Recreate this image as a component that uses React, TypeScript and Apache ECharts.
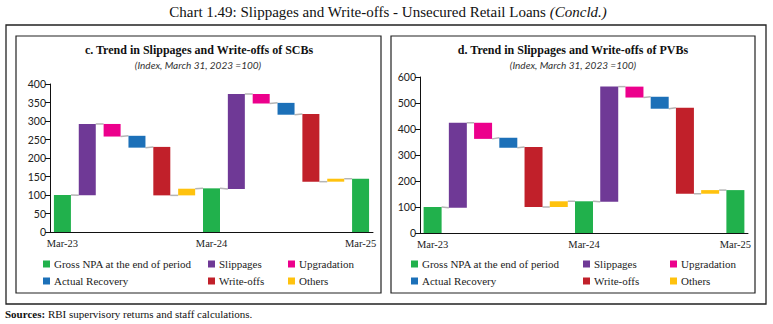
import React, { useEffect, useRef } from "react";
import * as echarts from "echarts";

// ---- data ----
const categories = [
  "Mar-23", "Slippages FY24", "Upgradation FY24", "Actual Recovery FY24", "Write-offs FY24", "Others FY24",
  "Mar-24", "Slippages FY25", "Upgradation FY25", "Actual Recovery FY25", "Write-offs FY25", "Others FY25",
  "Mar-25",
];
const xTickLabels = ["Mar-23", "Mar-24", "Mar-25"];

const legendNames = [
  "Gross NPA at the end of period",
  "Slippages",
  "Upgradation",
  "Actual Recovery",
  "Write-offs",
  "Others",
];
const legendColors = ["#21b14c", "#6f3996", "#ec008c", "#1c70b8", "#c1202a", "#ffc20e"];
// 0 = stock (total), +1 = moves the running total up, -1 = moves it down
const stepDirection = [0, 1, -1, -1, -1, 1];

// kind of each category (index into legendNames)
const stepKinds = [0, 1, 2, 3, 4, 5, 0, 1, 2, 3, 4, 5, 0];

// c. SCBs  (Index, March 31, 2023 = 100)
const scbLow = [0, 99, 258, 228, 99, 99, 0, 116, 347, 317, 136, 136, 0];
const scbHigh = [100, 292, 292, 260, 230, 117, 118, 373, 373, 349, 319, 144, 144];

// d. PVBs  (Index, March 31, 2023 = 100)
const pvbLow = [0, 97, 362, 328, 100, 100, 0, 120, 521, 478, 151, 151, 0];
const pvbHigh = [100, 424, 424, 366, 331, 122, 122, 563, 563, 524, 482, 165, 165];

const scbTicks = { max: 400, interval: 50 };
const pvbTicks = { max: 600, interval: 100 };

const SERIF = "'Liberation Serif', 'DejaVu Serif', serif";
const SANS = "Lato, 'Liberation Sans', sans-serif";

export default function App() {
  const ref = useRef<HTMLDivElement>(null);

  useEffect(() => {
    document.body.style.margin = "0";
    const chart = echarts.init(ref.current!, null, { renderer: "svg" });

    const panels = [
      { low: scbLow, high: scbHigh, ticks: scbTicks, grid: { left: 50, top: 84, width: 323, height: 148 }, barW: 17 },
      { low: pvbLow, high: pvbHigh, ticks: pvbTicks, grid: { left: 420, top: 77, width: 328, height: 156 }, barW: 18 },
    ];

    const grids: any[] = [];
    const xAxes: any[] = [];
    const yAxes: any[] = [];
    const series: any[] = [];

    panels.forEach((p, k) => {
      grids.push({ ...p.grid, containLabel: false });
      xAxes.push({
        type: "category",
        gridIndex: k,
        data: categories,
        boundaryGap: true,
        axisLine: { lineStyle: { color: "#111", width: 1 } },
        axisTick: { show: false },
        axisLabel: {
          interval: 0,
          margin: 6,
          fontFamily: SERIF,
          fontSize: 10.5,
          color: "#222",
          formatter: (v: string) => (xTickLabels.includes(v) ? v : ""),
        },
        splitLine: { show: false },
      });
      yAxes.push({
        type: "value",
        gridIndex: k,
        min: 0,
        max: p.ticks.max,
        interval: p.ticks.interval,
        axisLine: { show: true, lineStyle: { color: "#111", width: 1 } },
        axisTick: { show: true, length: 5, lineStyle: { color: "#111" } },
        axisLabel: { fontFamily: SANS, fontSize: 10.5, color: "#222", margin: 4 },
        splitLine: { show: false },
      });

      // invisible base of the waterfall
      series.push({
        type: "bar",
        name: "base" + k,
        xAxisIndex: k,
        yAxisIndex: k,
        stack: "wf" + k,
        barWidth: p.barW,
        silent: true,
        itemStyle: { color: "rgba(0,0,0,0)" },
        data: p.low,
      });
      legendNames.forEach((name, j) => {
        series.push({
          type: "bar",
          name,
          xAxisIndex: k,
          yAxisIndex: k,
          stack: "wf" + k,
          barWidth: p.barW,
          itemStyle: { color: legendColors[j] },
          data: categories.map((_, i) => (stepKinds[i] === j ? p.high[i] - p.low[i] : "-")),
        });
      });

      // connector lines between consecutive bars
      const levelAt = (i: number, side: "start" | "end") => {
        const d = stepDirection[stepKinds[i]];
        if (d === 0) return p.high[i];
        if (side === "end") return d > 0 ? p.high[i] : p.low[i];
        return d > 0 ? p.low[i] : p.high[i];
      };
      const connectors = categories.slice(0, -1).map((_, i) => [i, levelAt(i, "end"), levelAt(i + 1, "start")]);
      const bw = p.barW;
      series.push({
        type: "custom",
        name: "connectors" + k,
        xAxisIndex: k,
        yAxisIndex: k,
        silent: true,
        z: 1,
        data: connectors,
        renderItem: (params: any, api: any) => {
          const i = api.value(0);
          const a = api.coord([i, api.value(1)]);
          const b = api.coord([i + 1, api.value(2)]);
          return {
            type: "line",
            shape: { x1: a[0] + bw / 2, y1: a[1], x2: b[0] - bw / 2, y2: b[1] },
            style: { stroke: "#b5b5b5", lineWidth: 1.5 },
          };
        },
      });
    });

    const legendCols = [
      [43, 208, 288],
      [411, 583, 670],
    ];
    const legendRows = [264, 281];
    const legends: any[] = [];
    legendCols.forEach((cols) => {
      legendNames.forEach((name, j) => {
        const row = j < 3 ? 0 : 1;
        const col = j % 3;
        legends.push({
          data: [name],
          left: cols[col],
          top: legendRows[row] - 6,
          padding: 0,
          itemWidth: 7,
          itemHeight: 7,
          icon: "rect",
          selectedMode: false,
          textStyle: { fontFamily: SERIF, fontSize: 11, color: "#222", lineHeight: 12, padding: [0, 0, 0, -1] },
        });
      });
    });

    const graphic: any[] = [
      {
        type: "rect",
        shape: { x: 6, y: 25, width: 760, height: 279 },
        style: { fill: "none", stroke: "#222", lineWidth: 1.3 },
        silent: true,
      },
      {
        type: "rect",
        shape: { x: 16, y: 36, width: 365, height: 257 },
        style: { fill: "none", stroke: "#222", lineWidth: 1.2 },
        silent: true,
      },
      {
        type: "rect",
        shape: { x: 391, y: 36, width: 364, height: 257 },
        style: { fill: "none", stroke: "#222", lineWidth: 1.2 },
        silent: true,
      },
      {
        type: "text",
        x: 388,
        y: 12,
        style: {
          text: "{a|Chart 1.49: Slippages and Write-offs - Unsecured Retail Loans }{b|(Concld.)}",
          align: "center",
          verticalAlign: "middle",
          rich: {
            a: { fontFamily: SERIF, fontSize: 15, fill: "#111" },
            b: { fontFamily: SERIF, fontSize: 15, fontStyle: "italic", fill: "#111" },
          },
        },
      },
      {
        type: "text",
        x: 199,
        y: 50,
        style: {
          text: "c. Trend in Slippages and Write-offs of SCBs",
          fontFamily: SERIF,
          fontSize: 12,
          fontWeight: "bold",
          fill: "#111",
          align: "center",
          verticalAlign: "middle",
        },
      },
      {
        type: "text",
        x: 573,
        y: 50,
        style: {
          text: "d. Trend in Slippages and Write-offs of PVBs",
          fontFamily: SERIF,
          fontSize: 12,
          fontWeight: "bold",
          fill: "#111",
          align: "center",
          verticalAlign: "middle",
        },
      },
      {
        type: "text",
        x: 198,
        y: 65,
        style: {
          text: "(Index, March 31, 2023 =100)",
          fontFamily: SANS,
          fontSize: 10,
          fontStyle: "italic",
          fill: "#333",
          align: "center",
          verticalAlign: "middle",
        },
      },
      {
        type: "text",
        x: 573,
        y: 65,
        style: {
          text: "(Index, March 31, 2023 =100)",
          fontFamily: SANS,
          fontSize: 10,
          fontStyle: "italic",
          fill: "#333",
          align: "center",
          verticalAlign: "middle",
        },
      },
      {
        type: "text",
        x: 5,
        y: 314,
        style: {
          text: "{a|Sources:}{b| RBI supervisory returns and staff calculations.}",
          verticalAlign: "middle",
          rich: {
            a: { fontFamily: SERIF, fontSize: 11, fontWeight: "bold", fill: "#111" },
            b: { fontFamily: SERIF, fontSize: 11, fill: "#111" },
          },
        },
      },
    ];

    chart.setOption({
      animation: false,
      backgroundColor: "#fff",
      grid: grids,
      xAxis: xAxes,
      yAxis: yAxes,
      legend: legends,
      series,
      graphic,
    });

    return () => chart.dispose();
  }, []);

  return (
    <div
      ref={ref}
      style={{ position: "absolute", left: 0, top: 0, width: 773, height: 324, background: "#fff" }}
    />
  );
}
